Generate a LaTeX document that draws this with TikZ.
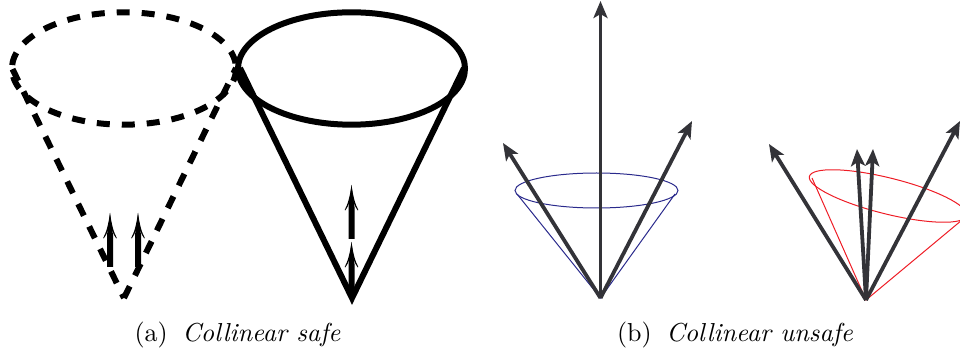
\documentclass[tikz,border=0pt]{standalone}
\usetikzlibrary{arrows.meta}
\definecolor{arrowgray}{HTML}{333338}
\definecolor{coneblue}{HTML}{2A2A8C}
\definecolor{conered}{HTML}{EE1C25}
\tikzset{
  heavy/.style={line width=6pt,black,line join=miter},
  heavydash/.style={heavy,dash pattern=on 13pt off 12pt},
  momentum/.style={line width=3.8pt,arrowgray,-{Stealth[length=17pt,width=14pt,inset=4pt]}},
  thincone/.style={line width=1pt},
  caption/.style={scale=2.6,inner sep=0pt,anchor=base},
  upstem/.pic={
    \fill[black] (-3,0) -- (-3,-32) -- (-0.9,-47) -- (0,-54) -- (0.9,-47) -- (3,-32) -- (3,0) -- cycle;
    \fill[black] (0,-54) .. controls (1.5,-43) and (3.5,-35) .. (6.8,-29)
       -- (6.2,-28.6) .. controls (3,-33) and (1,-38) .. (0,-46)
       .. controls (-1,-38) and (-3,-33) .. (-6.2,-28.6)
       -- (-6.8,-29) .. controls (-3.5,-35) and (-1.5,-43) .. (0,-54) -- cycle;
  }
}
\begin{document}
\begin{tikzpicture}[x=1pt,y=-1pt]
\useasboundingbox (0,0) rectangle (960,352);
\clip (0,0) rectangle (960,352);
% dashed cone
\coordinate (a1) at (124,298);
\coordinate (a1l) at (12,68);
\coordinate (a1r) at (236,68);
\draw[heavydash] (124,68.5) ellipse [x radius=112,y radius=56.2];
\draw[heavydash,dash phase=8.4pt] (a1) -- (a1l);
\draw[heavydash] (a1) -- (a1r);
\pic at (110,267) {upstem};
\pic at (138,267) {upstem};
% solid cone
\coordinate (a2) at (352,298);
\coordinate (a2l) at (240,68);
\coordinate (a2r) at (464,68);
\draw[heavy] (351.5,68.5) ellipse [x radius=113.5,y radius=56.2];
\draw[heavy] (a2l) -- (a2) -- (a2r);
\pic at (351.5,239) {upstem};
\pic at (351.5,296) {upstem};
% blue cone
\coordinate (a3) at (600.5,298);
\coordinate (a3l) at (517,194);
\coordinate (a3r) at (675,194);
\draw[thincone,coneblue] (596.5,190.5) ellipse [x radius=81.5,y radius=17.5];
\draw[thincone,coneblue] (a3l) -- (a3) -- (a3r);
\coordinate (t1) at (600.5,1);
\coordinate (t2) at (503,143);
\coordinate (t3) at (692,121);
\draw[momentum] (a3) -- (t1);
\draw[momentum] (a3) -- (t2);
\draw[momentum] (a3) -- (t3);
% red cone
\coordinate (a4) at (866,300);
\coordinate (a4l) at (812,178);
\coordinate (a4r) at (962,220);
\draw[thincone,conered,rotate around={-14:(888,196)}] (888,196) ellipse [x radius=81,y radius=18];
\draw[thincone,conered] (a4l) -- (a4) -- (a4r);
\coordinate (t4) at (769,144);
\coordinate (t5) at (857,149);
\coordinate (t6) at (873,149);
\coordinate (t7) at (960,121);
\draw[momentum] (a4) -- (t4);
\draw[momentum] (a4) -- (t5);
\draw[momentum] (a4) -- (t6);
\draw[momentum] (a4) -- (t7);
% captions
\node[caption] (capa) at (237.5,341) {(a)\hspace{5.6pt}\textit{Collinear safe}};
\node[caption] (capb) at (735,341) {(b)\hspace{5.6pt}\textit{Collinear unsafe}};
\end{tikzpicture}
\end{document}
